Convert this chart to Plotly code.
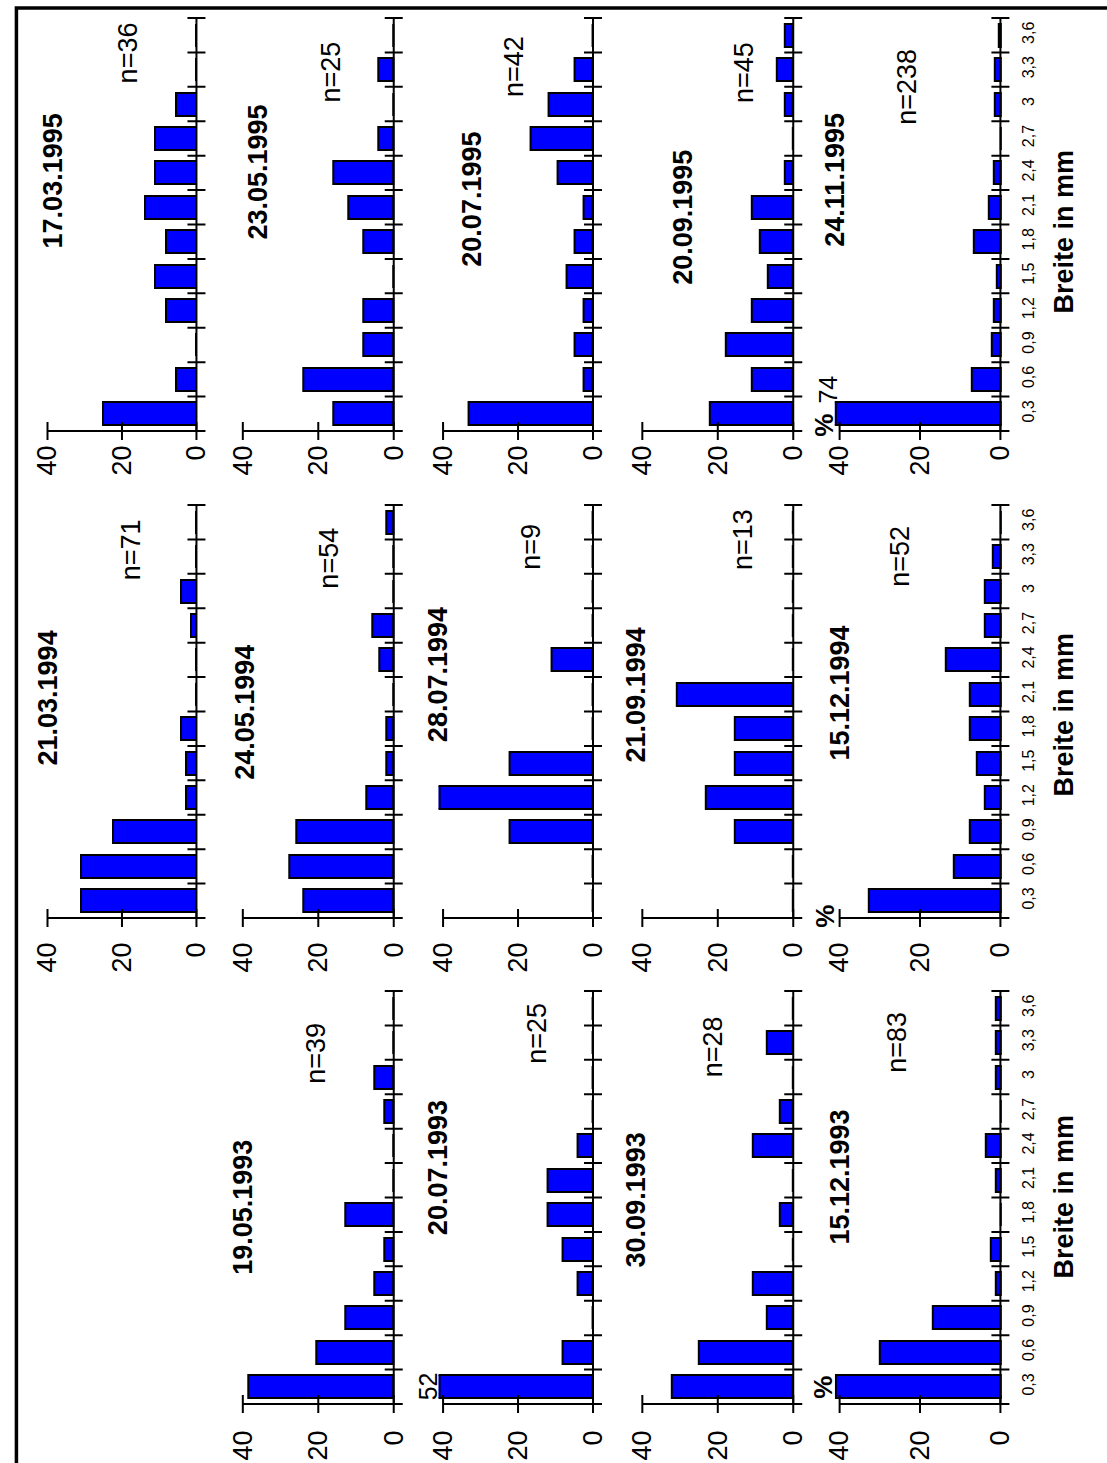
import plotly.graph_objects as go

W, H = 1107, 1463
FONT = "Liberation Sans, Arial, Helvetica, sans-serif"

# width classes (mm) and value-axis ticks (%)
widths = ["0,3", "0,6", "0,9", "1,2", "1,5", "1,8", "2,1", "2,4", "2,7", "3", "3,3", "3,6"]
value_ticks = [0, 20, 40]

# relative frequency (%) of each width class per sampling date
pct_19_05_1993 = [38.5, 20.5, 12.8, 5.1, 2.6, 12.8, 0, 0, 2.6, 5.1, 0, 0]
pct_20_07_1993 = [52, 8, 0, 4, 8, 12, 12, 4, 0, 0, 0, 0]
pct_30_09_1993 = [32.1, 25.0, 7.1, 10.7, 0, 3.6, 0, 10.7, 3.6, 0, 7.1, 0]
pct_15_12_1993 = [41.0, 30.1, 16.9, 1.2, 2.4, 0, 1.2, 3.6, 0, 1.2, 1.2, 1.2]

pct_21_03_1994 = [31.0, 31.0, 22.5, 2.8, 2.8, 4.2, 0, 0, 1.4, 4.2, 0, 0]
pct_24_05_1994 = [24.1, 27.8, 25.9, 7.4, 1.9, 1.9, 0, 3.7, 5.6, 0, 0, 1.9]
pct_28_07_1994 = [0, 0, 22.2, 44.4, 22.2, 0, 0, 11.1, 0, 0, 0, 0]
pct_21_09_1994 = [0, 0, 15.4, 23.1, 15.4, 15.4, 30.8, 0, 0, 0, 0, 0]
pct_15_12_1994 = [32.7, 11.5, 7.7, 3.8, 5.8, 7.7, 7.7, 13.5, 3.8, 3.8, 1.9, 0]

pct_17_03_1995 = [25.0, 5.6, 0, 8.3, 11.1, 8.3, 13.9, 11.1, 11.1, 5.6, 0, 0]
pct_23_05_1995 = [16, 24, 8, 8, 0, 8, 12, 16, 4, 0, 4, 0]
pct_20_07_1995 = [33.3, 2.4, 4.8, 2.4, 7.1, 4.8, 2.4, 9.5, 16.7, 11.9, 4.8, 0]
pct_20_09_1995 = [22.2, 11.1, 17.8, 11.1, 6.7, 8.9, 11.1, 2.2, 0, 2.2, 4.4, 2.2]
pct_24_11_1995 = [74, 7.1, 2.1, 1.7, 0.8, 6.7, 2.9, 1.7, 0, 1.3, 1.3, 0.4]

# sample sizes
n_1993 = [39, 25, 28, 83]
n_1994 = [71, 54, 9, 13, 52]
n_1995 = [36, 25, 42, 45, 238]

# (year block, column, date, values, n)
panels = [
    (1993, 1, "19.05.1993", pct_19_05_1993, n_1993[0]),
    (1993, 2, "20.07.1993", pct_20_07_1993, n_1993[1]),
    (1993, 3, "30.09.1993", pct_30_09_1993, n_1993[2]),
    (1993, 4, "15.12.1993", pct_15_12_1993, n_1993[3]),
    (1994, 0, "21.03.1994", pct_21_03_1994, n_1994[0]),
    (1994, 1, "24.05.1994", pct_24_05_1994, n_1994[1]),
    (1994, 2, "28.07.1994", pct_28_07_1994, n_1994[2]),
    (1994, 3, "21.09.1994", pct_21_09_1994, n_1994[3]),
    (1994, 4, "15.12.1994", pct_15_12_1994, n_1994[4]),
    (1995, 0, "17.03.1995", pct_17_03_1995, n_1995[0]),
    (1995, 1, "23.05.1995", pct_23_05_1995, n_1995[1]),
    (1995, 2, "20.07.1995", pct_20_07_1995, n_1995[2]),
    (1995, 3, "20.09.1995", pct_20_09_1995, n_1995[3]),
    (1995, 4, "24.11.1995", pct_24_11_1995, n_1995[4]),
]

# page layout (pixels): position of value 0 and value 40 for each column,
# top/bottom of the width axis for each year block
col_px = [(188, 37), (388, 235), (590, 438), (793, 640), (1003, 840)]
block_px = {1993: (991, 1404), 1994: (505, 918), 1995: (18, 431)}
tick_gap = {1993: 9, 1994: 7, 1995: -3}
XMAX = 41.2          # bars longer than this are cut at the panel edge
PAD_R, PAD_B, PAD_T = 11, 11, 4   # room around the axes so ticks are not clipped
TICK = 9
BAR_W = 0.67

# text placement (pixel centres) of dates and sample sizes
title_px = {
    "19.05.1993": (235, 1207), "20.07.1993": (433, 1168), "30.09.1993": (634, 1200),
    "15.12.1993": (840, 1177), "21.03.1994": (38, 698), "24.05.1994": (237, 712),
    "28.07.1994": (433, 675), "21.09.1994": (634, 695), "15.12.1994": (840, 693),
    "17.03.1995": (43, 181), "23.05.1995": (250, 172), "20.07.1995": (467, 199),
    "20.09.1995": (681, 217), "24.11.1995": (835, 180),
}
n_px = {
    "19.05.1993": (309, 1053), "20.07.1993": (533, 1033), "30.09.1993": (712, 1047),
    "15.12.1993": (898, 1042), "21.03.1994": (122, 550), "24.05.1994": (322, 558),
    "28.07.1994": (527, 547), "21.09.1994": (742, 539), "15.12.1994": (901, 556),
    "17.03.1995": (119, 53), "23.05.1995": (324, 72), "20.07.1995": (510, 67),
    "20.09.1995": (743, 72), "24.11.1995": (908, 87),
}
# offsets (px) of the value written next to a cut bar
over_shift = {"20.07.1993": (-11, 0), "24.11.1995": (-7, 24)}


def px(x):
    return x / W


def py(y):
    return 1 - y / H


fig = go.Figure()
shapes, annotations = [], []
BLACK = "black"
LINE = dict(color=BLACK, width=2)
nb = len(widths)

for k, (year, col, date, vals, n) in enumerate(panels, start=1):
    sx = "" if k == 1 else str(k)
    xa, ya = "x" + sx, "y" + sx
    x0px, x40px = col_px[col]
    scale = (x0px - x40px) / 40.0
    yt, yb = block_px[year]
    bin_px = (yb - yt) / nb

    fig.add_trace(go.Bar(
        x=vals, y=widths, orientation="h", xaxis=xa, yaxis=ya, width=BAR_W,
        marker=dict(color="#0000ff", line=dict(color=BLACK, width=2)),
        showlegend=False, hoverinfo="skip",
    ))

    fig.layout["xaxis" + sx] = dict(
        domain=[px(x0px - XMAX * scale), px(x0px + PAD_R)],
        range=[XMAX, -PAD_R / scale], anchor=ya,
        showgrid=False, zeroline=False, showline=False, ticks="",
        tickmode="array", tickvals=value_ticks, ticktext=[str(v) for v in value_ticks],
        tickangle=-90, ticklabelstandoff=tick_gap[year],
        tickfont=dict(family=FONT, size=27, color=BLACK),
    )
    fig.layout["yaxis" + sx] = dict(
        domain=[py(yb + PAD_B), py(yt - PAD_T)], type="category", categoryorder="array",
        categoryarray=widths, range=[-0.5 - PAD_B / bin_px, nb - 0.5 + PAD_T / bin_px],
        anchor=xa, side="right", showgrid=False, zeroline=False, showline=False,
        ticks="", showticklabels=(col == 4), tickangle=-90, ticklabelstandoff=6,
        tickfont=dict(family=FONT, size=16, color=BLACK),
    )

    # width axis along value 0 with boundary ticks crossing the line
    shapes.append(dict(type="line", xref=xa, yref=ya, x0=0, x1=0, y0=-0.5,
                       y1=nb - 0.5, line=LINE, layer="above"))
    for j in range(nb + 1):
        shapes.append(dict(type="line", xref=xa, yref=ya, xsizemode="pixel", xanchor=0,
                           x0=-TICK, x1=TICK, y0=j - 0.5, y1=j - 0.5, line=LINE,
                           layer="above"))
    # percentage axis from 0 to 40
    shapes.append(dict(type="line", xref=xa, yref=ya, x0=0, x1=value_ticks[-1],
                       y0=-0.5, y1=-0.5, line=LINE, layer="above"))
    for v in value_ticks:
        shapes.append(dict(type="line", xref=xa, yref=ya, ysizemode="pixel", yanchor=-0.5,
                           y0=-TICK, y1=TICK, x0=v, x1=v, line=LINE, layer="above"))

    tx, ty = title_px[date]
    annotations.append(dict(text="<b>%s</b>" % date, x=px(tx), y=py(ty), xref="paper",
                            yref="paper", showarrow=False, textangle=-90,
                            xanchor="center", yanchor="middle",
                            font=dict(family=FONT, size=27, color=BLACK)))
    nx, ny = n_px[date]
    annotations.append(dict(text="n=%d" % n, x=px(nx), y=py(ny), xref="paper",
                            yref="paper", showarrow=False, textangle=-90,
                            xanchor="center", yanchor="middle",
                            font=dict(family=FONT, size=27, color=BLACK)))

    # bars beyond the axis: close the cut end and write the value there
    for i, v in enumerate(vals):
        if v > XMAX:
            shapes.append(dict(type="line", xref=xa, yref=ya, x0=XMAX - 0.25, x1=XMAX - 0.25,
                               y0=i - BAR_W / 2, y1=i + BAR_W / 2, line=LINE))
            if date in over_shift:
                dx, dy = over_shift[date]
                annotations.append(dict(text="%g" % v, x=XMAX, y=widths[i], xref=xa,
                                        yref=ya, showarrow=False, textangle=-90,
                                        xanchor="center", yanchor="middle",
                                        xshift=dx, yshift=dy,
                                        font=dict(family=FONT, size=25, color=BLACK)))

# unit label and axis title of the bottom row
for year, (pxx, pyy), (bx, by) in [
    (1993, (823, 1387), (1067, 1197)),
    (1994, (825, 916), (1067, 715)),
    (1995, (824, 425), (1067, 232)),
]:
    annotations.append(dict(text="<b>%</b>", x=px(pxx), y=py(pyy), xref="paper", yref="paper",
                            showarrow=False, textangle=-90, xanchor="center",
                            yanchor="middle", font=dict(family=FONT, size=26, color=BLACK)))
    annotations.append(dict(text="<b>Breite in mm</b>", x=px(bx), y=py(by), xref="paper",
                            yref="paper", showarrow=False, textangle=-90, xanchor="center",
                            yanchor="middle", font=dict(family=FONT, size=27, color=BLACK)))

# outer frame
shapes.append(dict(type="rect", xref="paper", yref="paper", x0=px(5.5), x1=1.05,
                   y0=py(8), y1=-0.05, line=dict(color=BLACK, width=3.5)))

fig.update_layout(
    width=W, height=H, margin=dict(l=0, r=0, t=0, b=0),
    paper_bgcolor="white", plot_bgcolor="rgba(0,0,0,0)",
    shapes=shapes, annotations=annotations, bargap=0,
    font=dict(family=FONT, color=BLACK),
)

fig.write_html("out.html")
